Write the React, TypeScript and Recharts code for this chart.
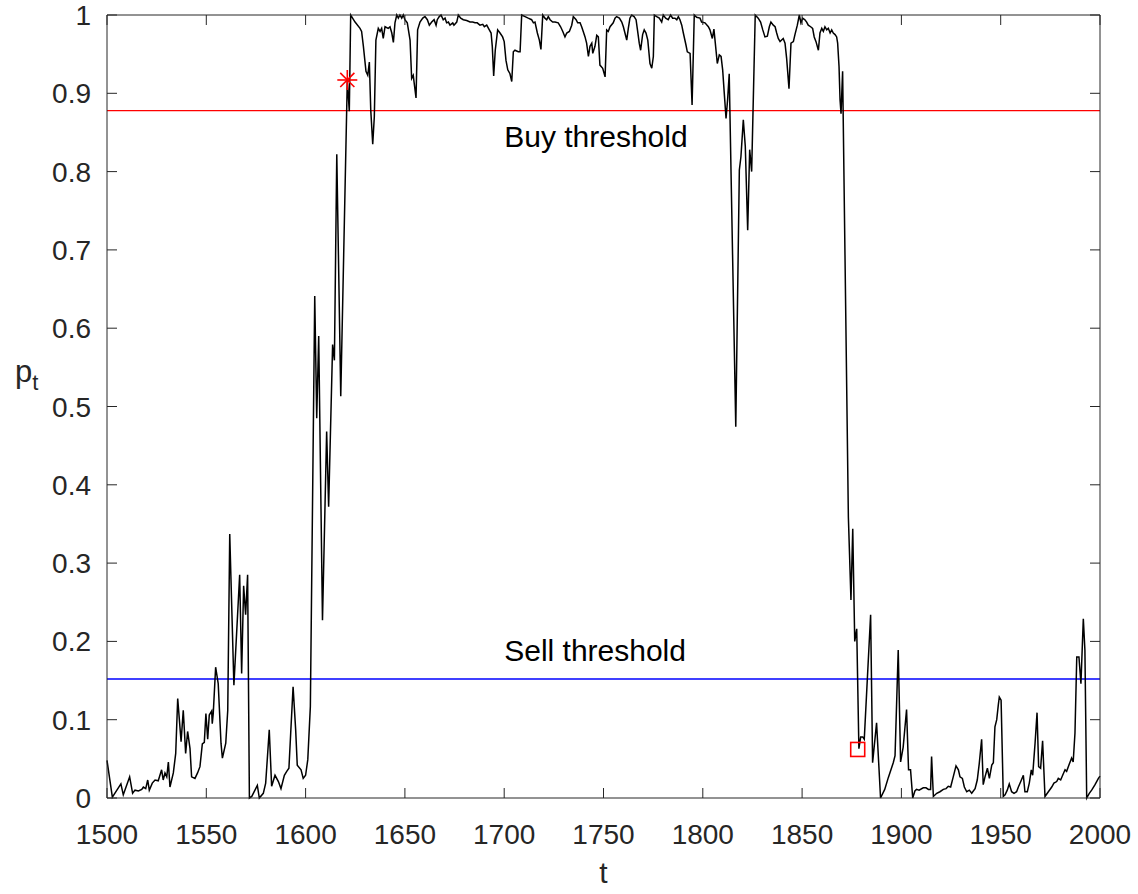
import React from "react";
import { ComposedChart, Line, Scatter, XAxis, YAxis, ReferenceLine, ReferenceDot } from "recharts";

// p_t, split by regime: [t, p]
const QUIET_START: [number, number][] = [
  [1500, 0.048], [1502.7, 0.001], [1507, 0.018], [1508.2, 0.004], [1511.4, 0.027], [1512.9, 0.006],
  [1514.1, 0.01], [1515.8, 0.009], [1517.5, 0.011], [1518.3, 0.014], [1519.5, 0.012], [1520.5, 0.023],
  [1521.3, 0.01], [1522.8, 0.019], [1524.2, 0.023], [1525.8, 0.022], [1527.5, 0.036], [1528.3, 0.023],
  [1529.2, 0.032], [1530.1, 0.027], [1530.9, 0.046], [1531.7, 0.014], [1533.4, 0.032], [1534.6, 0.057],
  [1535.6, 0.127], [1537.3, 0.072], [1538.4, 0.112], [1539.6, 0.057], [1540.6, 0.085], [1541.8, 0.063],
  [1542.6, 0.027], [1544.3, 0.025], [1545.6, 0.032], [1546.8, 0.04], [1548, 0.069], [1549, 0.071],
  [1549.8, 0.108], [1550.7, 0.075], [1551.5, 0.106], [1552.7, 0.111], [1553, 0.095], [1553.5, 0.108],
  [1554.7, 0.167], [1556, 0.146], [1557.4, 0.07], [1558.1, 0.051], [1559.8, 0.07], [1560.8, 0.112],
  [1561.8, 0.337], [1563.9, 0.144], [1566.8, 0.285], [1567.8, 0.159], [1568.8, 0.271], [1569.8, 0.234],
  [1570.8, 0.285], [1571.7, 0], [1572.9, 0.002], [1574.5, 0.01], [1575.7, 0.016], [1576.7, 0],
  [1578.7, 0.006], [1579.9, 0.019], [1581.7, 0.087], [1582.9, 0.015], [1584.6, 0.029], [1586.3, 0.021],
  [1587.6, 0.012], [1589.3, 0.029], [1590.5, 0.034], [1591.6, 0.038], [1592.5, 0.083], [1593.7, 0.142],
  [1595, 0.087], [1595.8, 0.042], [1597.7, 0.036], [1598.8, 0.025], [1600, 0.029], [1601.1, 0.049],
  [1602.4, 0.117],
];

const FIRST_RISE: [number, number][] = [
  [1604.6, 0.641], [1605.6, 0.485], [1606.6, 0.59], [1608.5, 0.227], [1610.6, 0.468], [1611.6, 0.372],
  [1613.6, 0.579], [1614.5, 0.559], [1615.7, 0.822], [1617.7, 0.513], [1621, 0.917], [1622, 0.877],
  [1622.7, 1.0],
];

const PLATEAU_A: [number, number][] = [
  [1624.9, 0.991], [1627.4, 0.983], [1628.2, 0.979], [1629.1, 0.96], [1630.4, 0.928], [1631.3, 0.923],
  [1632.1, 0.94], [1632.8, 0.879], [1633.8, 0.835], [1634.6, 0.87], [1635.4, 0.968], [1636.6, 0.983],
  [1637.5, 0.979], [1638.3, 0.983], [1639.1, 0.97], [1640, 0.985], [1641.6, 0.983], [1642.5, 0.985],
  [1643.4, 0.977], [1644.2, 0.965], [1645, 0.99], [1645.9, 1.0], [1646.7, 0.996], [1647.5, 1.0],
  [1648.4, 0.996], [1649.2, 1.0], [1650, 0.994], [1651.2, 0.99], [1652.6, 0.968], [1653.4, 0.919],
  [1654.2, 0.923], [1655.6, 0.894], [1656.4, 0.981], [1657.6, 0.991], [1659, 0.996], [1660.1, 0.998],
  [1661.3, 0.994], [1662.3, 0.987], [1663.5, 0.991], [1664.7, 0.994], [1665.7, 0.987], [1666.3, 0.994],
  [1667.3, 0.998], [1668.2, 1.0], [1669.3, 0.994], [1670.2, 0.996], [1671, 0.99], [1671.9, 0.991],
  [1672.7, 0.987], [1674.1, 0.99], [1674.7, 0.987], [1676.1, 0.991], [1676.9, 1.0], [1678.1, 0.996],
  [1679.4, 0.994], [1681.1, 0.993], [1682.8, 0.991], [1684.1, 0.991], [1685.3, 0.99], [1686.4, 0.99],
  [1687.8, 0.987], [1689.2, 0.988], [1690, 0.985], [1691.2, 0.987], [1692.5, 0.981], [1693.4, 0.977],
  [1694, 0.96], [1694.7, 0.922], [1695.5, 0.955], [1696.7, 0.981], [1697.9, 0.977], [1699.2, 0.972],
  [1700, 0.966], [1700.9, 0.942], [1701.8, 0.93], [1702.9, 0.925], [1703.8, 0.915], [1704.6, 0.953],
  [1705.4, 0.955], [1707.1, 0.953], [1708, 0.953], [1708.8, 1.0], [1710.5, 0.998], [1712.1, 0.996],
  [1713.8, 0.994], [1714.7, 0.99], [1715.5, 0.991], [1716.7, 0.977], [1717.7, 0.968], [1718.5, 0.956],
  [1719.4, 1.0], [1720.5, 0.996], [1721.4, 0.994], [1722.2, 0.998], [1723.1, 0.994], [1724.4, 0.991],
  [1725.6, 0.991], [1727.2, 0.99], [1728.4, 0.985], [1729.5, 0.979], [1730.6, 0.972], [1731.5, 0.977],
  [1732.8, 0.979], [1734, 0.987], [1734.8, 0.998], [1736.2, 0.994], [1737, 0.99], [1738.2, 0.99],
  [1739, 0.985], [1739.8, 0.979], [1740.7, 0.972], [1741.5, 0.964], [1742.4, 0.947], [1743.2, 0.96],
  [1744.1, 0.964], [1744.6, 0.951], [1745.7, 0.96], [1746.6, 0.974], [1747.4, 0.972], [1748.2, 0.936],
  [1749.6, 0.932], [1750.8, 0.921],
];

const PLATEAU_B: [number, number][] = [
  [1751.6, 0.981], [1752.4, 0.979], [1753.3, 0.985], [1754.9, 0.99], [1755.8, 0.996], [1756.6, 0.998],
  [1758, 0.996], [1759.2, 0.991], [1760, 0.985], [1760.8, 0.977], [1761.7, 0.968], [1762.5, 0.983],
  [1763.3, 0.996], [1764.2, 1.0], [1765.4, 0.998], [1766.4, 0.994], [1767, 0.983], [1768, 0.964],
  [1768.7, 0.955], [1769.7, 0.975], [1770.5, 0.981], [1771.4, 0.977], [1772.3, 0.968], [1773.4, 0.938],
  [1774.3, 0.932], [1775.1, 0.947], [1775.6, 1.0], [1776.8, 0.998], [1778.1, 0.996], [1779.3, 0.991],
  [1780.1, 1.0], [1781.3, 0.996], [1782.6, 0.994], [1783.8, 1.0], [1784.8, 0.996], [1786, 0.996],
  [1786.9, 0.994], [1787.7, 0.998], [1788.5, 0.994], [1789.4, 0.987], [1790.2, 0.977], [1791.5, 0.962],
  [1792.2, 0.953], [1793.6, 0.951], [1794.6, 0.885], [1795.7, 1.0], [1796.9, 0.997], [1798.6, 0.996],
  [1799.4, 0.991], [1801.1, 0.99], [1802.8, 0.985], [1803.6, 0.981], [1804.8, 0.97], [1805.6, 0.982],
  [1806.3, 0.964], [1807.3, 0.938], [1808.3, 0.949], [1809.2, 0.947], [1810, 0.93], [1810.7, 0.904],
  [1811.7, 0.868], [1812.5, 0.892], [1813.3, 0.925], [1816.6, 0.474], [1818.4, 0.802], [1819.2, 0.819],
  [1820.4, 0.866], [1821.4, 0.832], [1822.6, 0.725], [1823.6, 0.828], [1824.6, 0.8], [1826.4, 1.0],
  [1827.9, 0.996], [1829.1, 0.991], [1830.2, 0.981], [1831.3, 0.972], [1832.5, 0.973], [1833.5, 0.985],
  [1834.3, 0.991], [1835.5, 0.987], [1836.4, 0.985], [1837.2, 0.977], [1838, 0.97], [1838.9, 0.966],
  [1839.7, 0.968], [1840.5, 0.97], [1841.4, 0.964], [1842.2, 0.945], [1843.4, 0.906], [1844.4, 0.964],
  [1845.6, 0.966], [1846.4, 0.975], [1847.6, 0.987], [1848.6, 1.0], [1849.4, 0.99], [1850.3, 0.996],
  [1851.4, 0.994], [1852.3, 0.991], [1853.1, 0.987], [1854.3, 0.985], [1855.3, 0.983], [1856.1, 0.972],
  [1857, 0.966], [1858.2, 0.955], [1859, 0.977], [1859.9, 0.983], [1860.7, 0.979], [1861.5, 0.985],
  [1862.4, 0.981], [1863.2, 0.983], [1864.1, 0.977], [1864.9, 0.981], [1865.7, 0.977], [1866.6, 0.975],
  [1867.4, 0.972], [1867.9, 0.964], [1868.6, 0.934], [1869.1, 0.892], [1869.6, 0.874], [1870.4, 0.928],
];

const QUIET_END: [number, number][] = [
  [1873.3, 0.359], [1874.6, 0.253], [1875.5, 0.344], [1876.5, 0.2], [1877.5, 0.216], [1878.6, 0.063],
  [1879.5, 0.078], [1880.5, 0.078], [1881.3, 0.075], [1884.5, 0.234], [1885.5, 0.045], [1887.5, 0.096],
  [1889.5, 0], [1891.6, 0.011], [1893.4, 0.026], [1895.9, 0.045], [1896.8, 0.054], [1898.4, 0.189],
  [1899.6, 0.046], [1900.9, 0.065], [1902.6, 0.113], [1903.6, 0.036], [1904.6, 0.036], [1905.7, 0],
  [1906.8, 0.009], [1907.6, 0.011], [1908.9, 0.01], [1911, 0.013], [1912.4, 0.013], [1913.6, 0.011],
  [1914.7, 0.011], [1915.2, 0.053], [1916.1, 0.002], [1917.8, 0.006], [1919.4, 0.008], [1921.1, 0.011],
  [1922.5, 0.012], [1923.6, 0.015], [1924.8, 0.014], [1926.1, 0.027], [1927.5, 0.041], [1928.7, 0.036],
  [1929.5, 0.027], [1930.7, 0.025], [1931.7, 0.014], [1932.9, 0.008], [1934.2, 0.01], [1935.4, 0.006],
  [1937.1, 0.012], [1938.2, 0.023], [1939.2, 0.044], [1940.4, 0.075], [1941.2, 0.017], [1942.1, 0.027],
  [1943.3, 0.038], [1944.3, 0.025], [1945.5, 0.042], [1946.3, 0.045], [1947.1, 0.091], [1948, 0.1],
  [1948.8, 0.119], [1949.3, 0.129], [1950.2, 0.125], [1951.3, 0.002], [1952.2, 0.004], [1953.3, 0.01],
  [1954.3, 0.018], [1955.5, 0.008], [1956.7, 0.006], [1958, 0.008], [1958.9, 0.014], [1960.1, 0.021],
  [1961.4, 0.029], [1962.2, 0.008], [1963.4, 0.008], [1964.4, 0.019], [1965.4, 0.036], [1966.1, 0.029],
  [1967.3, 0.07], [1968.3, 0.109], [1969.1, 0.04], [1970.1, 0.038], [1971.1, 0.073], [1972.3, 0.002],
  [1974, 0.008], [1975.7, 0.014], [1976.8, 0.019], [1978.2, 0.021], [1979, 0.025], [1980.2, 0.023],
  [1981.2, 0.029], [1982.4, 0.036], [1983.2, 0.034], [1984.5, 0.043], [1985.7, 0.051], [1986.5, 0.046],
  [1987.4, 0.083], [1988.3, 0.18], [1989.4, 0.18], [1990.4, 0.146], [1991.6, 0.229], [1992.4, 0.189],
  [1993.3, 0], [1994.6, 0.006], [1995.8, 0.01], [1997.5, 0.017], [1999.2, 0.025], [2000, 0.028],
];

const BUY_SIGNAL: [number, number][] = [[1621, 0.917]];
const SELL_SIGNAL: [number, number][] = [[1878, 0.062]];

const BUY_THRESHOLD = 0.878;
const SELL_THRESHOLD = 0.152;

const X_TICKS = [1500, 1550, 1600, 1650, 1700, 1750, 1800, 1850, 1900, 1950, 2000];
const Y_TICKS = [0, 0.1, 0.2, 0.3, 0.4, 0.5, 0.6, 0.7, 0.8, 0.9, 1];

const AXIS = "#262626";
const FONT = "'Liberation Sans', Arial, Helvetica, sans-serif";
const TICK_FONT = 28;

const toRows = (pairs: [number, number][]) => pairs.map(([t, p]) => ({ t, p }));
const series = toRows([...QUIET_START, ...FIRST_RISE, ...PLATEAU_A, ...PLATEAU_B, ...QUIET_END]);

// MATLAB-style ticks: marks point into the plot box
function BottomTick({ x, y, payload }: any) {
  return (
    <g>
      <line x1={x} x2={x} y1={y} y2={y - 10} stroke={AXIS} />
      <text x={x} y={y + 46} textAnchor="middle" fontSize={TICK_FONT} fill={AXIS}>
        {payload.value}
      </text>
    </g>
  );
}

function TopTick({ x, y }: any) {
  return <line x1={x} x2={x} y1={y} y2={y + 10} stroke={AXIS} />;
}

function LeftTick({ x, y, payload }: any) {
  return (
    <g>
      <line x1={x} x2={x + 10} y1={y} y2={y} stroke={AXIS} />
      <text x={x - 16} y={y} dy="0.36em" textAnchor="end" fontSize={TICK_FONT} fill={AXIS}>
        {String(Number(payload.value.toFixed(1)))}
      </text>
    </g>
  );
}

function RightTick({ x, y }: any) {
  return <line x1={x} x2={x - 10} y1={y} y2={y} stroke={AXIS} />;
}

function Asterisk({ cx, cy }: any) {
  const r = 10;
  const d = r * 0.707;
  return (
    <g stroke="#ff0000" strokeWidth={1.6}>
      <line x1={cx - r} x2={cx + r} y1={cy} y2={cy} />
      <line x1={cx} x2={cx} y1={cy - r} y2={cy + r} />
      <line x1={cx - d} x2={cx + d} y1={cy - d} y2={cy + d} />
      <line x1={cx - d} x2={cx + d} y1={cy + d} y2={cy - d} />
    </g>
  );
}

function SquareMark({ cx, cy }: any) {
  return <rect x={cx - 7} y={cy - 7} width={14} height={14} fill="none" stroke="#ff0000" strokeWidth={1.6} />;
}

export default function App() {
  return (
    <div style={{ position: "absolute", left: 0, top: 0, width: 1138, height: 894, background: "#fff", fontFamily: FONT }}>
      <ComposedChart width={1138} height={894} data={series} margin={{ top: 0, right: 0, bottom: 0, left: 0 }}>
        <XAxis
          dataKey="t"
          type="number"
          domain={[1500, 2000]}
          ticks={X_TICKS}
          interval={0}
          height={96}
          tickSize={0}
          tickMargin={0}
          axisLine={{ stroke: AXIS }}
          tick={BottomTick}
          label={{
            content: ({ viewBox }: any) => (
              <text x={viewBox.x + viewBox.width / 2} y={viewBox.y + 85} textAnchor="middle" fontSize={30} fill={AXIS}>
                t
              </text>
            ),
          }}
        />
        <XAxis
          xAxisId="top"
          orientation="top"
          dataKey="t"
          type="number"
          domain={[1500, 2000]}
          ticks={X_TICKS}
          interval={0}
          height={15}
          tickSize={0}
          tickMargin={0}
          axisLine={{ stroke: AXIS }}
          tick={TopTick}
        />
        <YAxis
          dataKey="p"
          type="number"
          domain={[0, 1]}
          ticks={Y_TICKS}
          interval={0}
          width={107}
          tickSize={0}
          tickMargin={0}
          axisLine={{ stroke: AXIS }}
          tick={LeftTick}
          label={{
            content: ({ viewBox }: any) => (
              <text x={viewBox.x + 15} y={viewBox.y + viewBox.height / 2 - 25} fontSize={31} fill={AXIS}>
                p
                <tspan fontSize={22} dy={8}>
                  t
                </tspan>
              </text>
            ),
          }}
        />
        <YAxis
          yAxisId="right"
          orientation="right"
          dataKey="p"
          type="number"
          domain={[0, 1]}
          ticks={Y_TICKS}
          interval={0}
          width={38}
          tickSize={0}
          tickMargin={0}
          axisLine={{ stroke: AXIS }}
          tick={RightTick}
        />
        <ReferenceLine y={BUY_THRESHOLD} stroke="#ff0000" strokeWidth={1.3} />
        <ReferenceLine y={SELL_THRESHOLD} stroke="#0000ff" strokeWidth={1.3} />
        <ReferenceDot
          x={1700}
          y={0.845}
          r={0}
          fill="none"
          stroke="none"
          label={{ value: "Buy threshold", position: "right", offset: 0, fill: "#000", fontSize: 30 }}
        />
        <ReferenceDot
          x={1700}
          y={0.189}
          r={0}
          fill="none"
          stroke="none"
          label={{ value: "Sell threshold", position: "right", offset: 0, fill: "#000", fontSize: 30 }}
        />
        <Line dataKey="p" type="linear" stroke="#000" strokeWidth={1.5} dot={false} isAnimationActive={false} />
        <Scatter data={toRows(BUY_SIGNAL)} dataKey="p" shape={Asterisk} isAnimationActive={false} />
        <Scatter data={toRows(SELL_SIGNAL)} dataKey="p" shape={SquareMark} isAnimationActive={false} />
      </ComposedChart>
    </div>
  );
}
